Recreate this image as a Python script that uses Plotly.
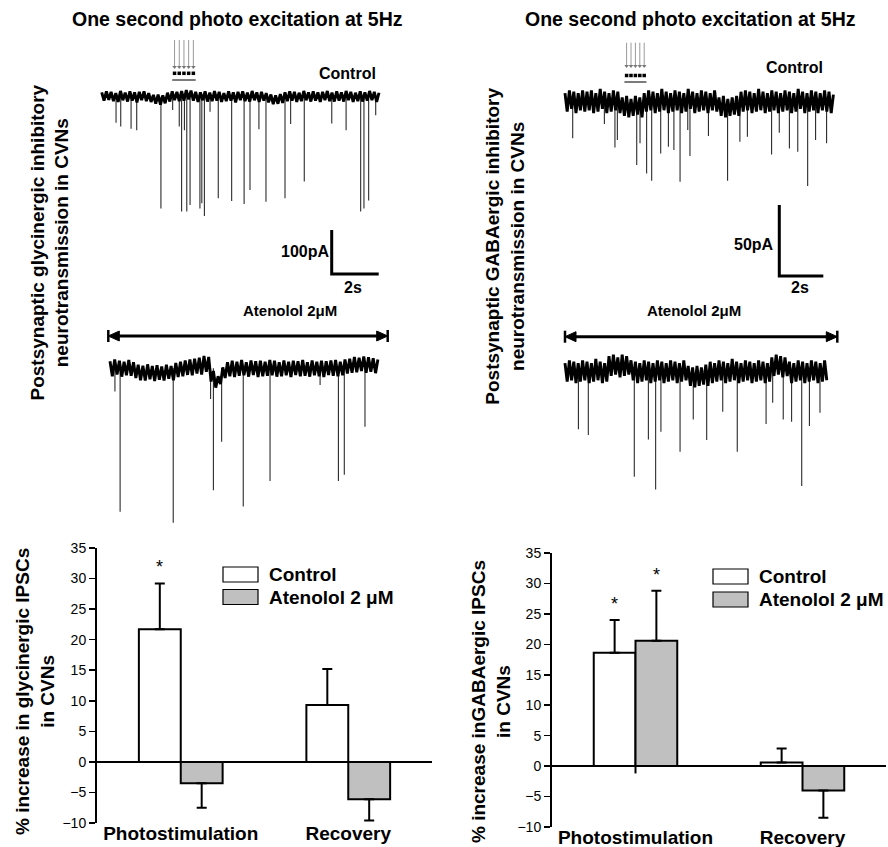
import plotly.graph_objects as go

W, H = 888, 847
FONT = "Liberation Sans, Arial, Helvetica, sans-serif"

# ---------------- bar chart data (% increase in IPSCs) ----------------
groups = ["Photostimulation", "Recovery"]
gly_control = [21.7, 9.3]
gly_control_err = [7.5, 5.9]
gly_atenolol = [-3.5, -6.1]
gly_atenolol_err = [4.0, 3.5]
gly_control_sig = [True, False]
gly_atenolol_sig = [False, False]

gaba_control = [18.6, 0.6]
gaba_control_err = [5.4, 2.3]
gaba_atenolol = [20.6, -4.0]
gaba_atenolol_err = [8.2, 4.5]
gaba_control_sig = [True, False]
gaba_atenolol_sig = [True, False]

# ---------------- recording traces ----------------
SAMPLE_DT = 0.1  # s between baseline-noise samples
# glycinergic, control (pA)
gly_ctrl_base = [10, -9, 12, -7, 11, -10, 8, -12, 13, -8,
                 9, -11, 12, -9, 10, -13, 11, -8, 12, -10,
                 8, -12, 4, -16, 5, -18, 3, -15, 9, -11,
                 12, -8, 11, -10, 13, -9, 15, -6, 14, -9,
                 11, -12, 10, -8, 12, -11, 9, -10, 13, -9,
                 11, -12, 8, -10, 12, -9, 10, -13, 11, -8,
                 12, -10, 9, -11, 13, -8, 10, -12, 11, -9,
                 8, -13, 5, -17, 3, -16, 6, -14, 10, -10,
                 12, -9, 11, -12, 9, -10, 13, -8, 10, -11,
                 12, -9, 10, -12, 11, -8, 13, -10, 9, -11,
                 12, -9, 10, -11, 13, -8, 11, -12, 9, -10,
                 12, -11, 10, -9, 13, -8, 11, -12, 9]
gly_ctrl_spike_t = [0.61, 0.81, 1.25, 1.49, 2.52, 3.02, 3.30, 3.40, 3.52, 3.62,
                    3.76, 4.18, 4.26, 4.37, 4.61, 4.96, 5.53, 6.06, 6.31, 6.69,
                    6.99, 7.80, 8.04, 8.62, 9.79, 10.40, 11.02, 11.16, 11.36, 11.66]
gly_ctrl_spike_amp = [-59, -68, -73, -76, -254, -30, -68, -261, -76, -261,
                      -246, -254, -242, -271, -34, -231, -237, -244, -212, -74,
                      -239, -231, -62, -193, -61, -76, -261, -254, -236, -42]
# glycinergic, atenolol
gly_aten_base = [16, -18, 20, -14, 17, -19, 15, -16, 19, -17,
                 14, -22, 8, -27, 6, -28, 9, -25, 5, -29,
                 7, -26, 4, -28, 8, -24, 5, -27, 12, -20,
                 15, -18, 18, -15, 20, -16, 22, -12, 24, -14,
                 28, -8, 26, -30, -6, -44, -18, -36, 2, -22,
                 14, -18, 17, -20, 15, -17, 19, -16, 14, -19,
                 18, -15, 16, -20, 17, -18, 15, -17, 19, -16,
                 17, -19, 14, -18, 18, -16, 15, -20, 17, -15,
                 16, -18, 19, -17, 14, -19, 18, -16, 15, -18,
                 17, -20, 16, -15, 18, -17, 19, -18, 15, -16,
                 20, -12, 22, -10, 26, -9, 24, -6, 27, -10,
                 25, -8, 23, -11, 20]
gly_aten_spike_t = [0.21, 0.43, 2.69, 4.28, 4.40, 4.75, 5.67, 6.81, 8.94, 9.72, 9.97, 10.85]
gly_aten_spike_amp = [-53, -326, -351, -70, -277, -167, -314, -256, -38, -256, -242, -133]
# GABAergic, control
gaba_ctrl_base = [6, -7, 8, -5, 7, -8, 6, -6, 8, -7,
                  7, -6, 8, -8, 6, -7, 9, -5, 7, -8,
                  6, -7, 8, -6, 7, -8, 3, -10, 4, -11,
                  2, -10, 4, -9, 3, -11, 6, -7, 8, -6,
                  7, -8, 6, -7, 9, -6, 7, -8, 6, -7,
                  8, -6, 7, -8, 6, -7, 9, -5, 7, -8,
                  6, -7, 8, -6, 7, -8, 6, -6, 8, -7,
                  3, -10, 4, -11, 2, -10, 3, -9, 4, -10,
                  7, -7, 8, -6, 7, -8, 6, -7, 9, -6,
                  7, -8, 6, -7, 8, -6, 7, -8, 6, -7,
                  8, -6, 7, -8, 6, -7, 9, -5, 7, -8,
                  6, -7, 8, -6, 7, -8, 6, -6, 8, -7,
                  7, -8, 5]
gaba_ctrl_spike_t = [0.35, 1.79, 2.27, 2.38, 3.26, 3.41, 3.71, 3.94, 4.35, 4.70,
                     4.95, 5.23, 5.58, 5.68, 6.52, 7.39, 7.95, 8.29, 9.39, 9.74,
                     10.20, 10.58, 11.03, 11.39, 11.89]
gaba_ctrl_spike_amp = [-25.8, -15.7, -32.2, -27.0, -44.6, -29.3, -50.5, -55.6, -36.4, -31.7,
                       -34.0, -56.3, -19.9, -38.3, -24.2, -55.6, -28.2, -24.6, -37.1, -21.8,
                       -32.9, -35.2, -59.4, -27.0, -29.3]
# GABAergic, atenolol
gaba_aten_base = [6, -7, 8, -6, 7, -8, 6, -7, 8, -6,
                  7, -8, 6, -7, 9, -6, 7, -8, 6, -7,
                  11, -3, 12, -2, 10, -4, 12, -3, 11, -2,
                  8, -6, 7, -8, 6, -7, 8, -6, 7, -8,
                  6, -7, 8, -6, 7, -8, 6, -7, 8, -6,
                  7, -8, 6, -7, 8, -6, 4, -10, 3, -11,
                  4, -10, 3, -9, 5, -10, 7, -8, 6, -7,
                  8, -6, 7, -8, 6, -7, 9, -6, 7, -8,
                  6, -7, 8, -6, 7, -8, 6, -7, 8, -6,
                  7, -8, 6, -7, 10, -3, 12, -2, 11, -4,
                  10, -3, 7, -8, 6, -7, 8, -6, 7, -8,
                  6, -7, 8, -6, 7, -8, 6, -7, 8, -6]
gaba_aten_spike_t = [0.61, 1.06, 3.15, 3.79, 4.12, 4.36, 5.23, 5.83, 6.44, 7.17,
                     7.83, 9.14, 9.44, 9.92, 10.30, 10.76, 11.11, 11.59]
gaba_aten_spike_amp = [-40.6, -44.6, -73.9, -47.7, -82.9, -42.3, -56.3, -33.6, -48.1, -28.2,
                       -56.3, -36.8, -21.8, -33.6, -35.2, -80.5, -38.2, -28.9]

# photostimulation (1 s at 5 Hz)
gly_stim_t = [3.1, 3.3, 3.5, 3.7, 3.9]
gly_stim_window = [3.0, 4.0]
gaba_stim_t = [2.8, 3.0, 3.2, 3.4, 3.6]
gaba_stim_window = [2.7, 3.7]
# calibration bars (s, pA)
gly_scale = (2, 100)
gaba_scale = (2, 50)

# ---------------- layout helpers ----------------
def X(px):
    return px / W

def Y(py):
    return 1 - py / H

fig = go.Figure()

# trace panels: pixel box (x0, x1, y0, y1), pixel of t=0, pixel of 0 pA, px/s, px/pA
panels = {
    "3": dict(box=(95, 395, 30, 300), t0=101.7, base=96.7, pps=23.5, ppa=0.44),
    "4": dict(box=(100, 395, 345, 540), t0=110.0, base=368.3, pps=23.5, ppa=0.44),
    "5": dict(box=(555, 882, 30, 300), t0=565.0, base=101.7, pps=22.0, ppa=1.42),
    "6": dict(box=(555, 882, 345, 540), t0=565.0, base=371.7, pps=22.0, ppa=1.42),
}

def pA_at(k, py):
    p = panels[k]
    return (p["base"] - py) / p["ppa"]

def t_at(k, px):
    p = panels[k]
    return (px - p["t0"]) / p["pps"]

layout_axes = {}
for k, p in panels.items():
    x0, x1, y0, y1 = p["box"]
    layout_axes["xaxis" + k] = dict(domain=[X(x0), X(x1)], range=[t_at(k, x0), t_at(k, x1)],
                                    visible=False, anchor="y" + k, fixedrange=True, automargin=False)
    layout_axes["yaxis" + k] = dict(domain=[Y(y1), Y(y0)], range=[pA_at(k, y1), pA_at(k, y0)],
                                    visible=False, anchor="x" + k, fixedrange=True, automargin=False)

def add_recording(k, base, spike_t, spike_amp, lw):
    t = [i * SAMPLE_DT for i in range(len(base))]
    xs, ys = [], []
    for tt, a in zip(spike_t, spike_amp):
        xs += [tt, tt, None]
        ys += [0, a, None]
    fig.add_trace(go.Scatter(x=xs, y=ys, mode="lines", line=dict(color="#2b2b2b", width=1.1),
                             xaxis="x" + k, yaxis="y" + k, hoverinfo="skip", showlegend=False))
    fig.add_trace(go.Scatter(x=t, y=base, mode="lines", line=dict(color="black", width=lw),
                             xaxis="x" + k, yaxis="y" + k, hoverinfo="skip", showlegend=False))

add_recording("3", gly_ctrl_base, gly_ctrl_spike_t, gly_ctrl_spike_amp, 2.9)
add_recording("4", gly_aten_base, gly_aten_spike_t, gly_aten_spike_amp, 2.9)
add_recording("5", gaba_ctrl_base, gaba_ctrl_spike_t, gaba_ctrl_spike_amp, 2.9)
add_recording("6", gaba_aten_base, gaba_aten_spike_t, gaba_aten_spike_amp, 2.9)

def add_stim(k, stim_t, window, py_top, py_tip, py_rect, py_line):
    top, tip, rect, line = (pA_at(k, py_top), pA_at(k, py_tip), pA_at(k, py_rect), pA_at(k, py_line))
    xs, ys = [], []
    for tt in stim_t:
        xs += [tt, tt, None]
        ys += [top, tip, None]
    fig.add_trace(go.Scatter(x=xs, y=ys, mode="lines", line=dict(color="#9a9a9a", width=1),
                             xaxis="x" + k, yaxis="y" + k, hoverinfo="skip", showlegend=False))
    fig.add_trace(go.Scatter(x=stim_t, y=[tip] * len(stim_t), mode="markers",
                             marker=dict(symbol="triangle-down", size=4, color="#777777"),
                             xaxis="x" + k, yaxis="y" + k, hoverinfo="skip", showlegend=False))
    fig.add_trace(go.Scatter(x=stim_t, y=[rect] * len(stim_t), mode="markers",
                             marker=dict(symbol="square", size=3.5, color="black"),
                             xaxis="x" + k, yaxis="y" + k, hoverinfo="skip", showlegend=False))
    fig.add_trace(go.Scatter(x=window, y=[line, line], mode="lines", line=dict(color="#333333", width=1.3),
                             xaxis="x" + k, yaxis="y" + k, hoverinfo="skip", showlegend=False))

add_stim("3", gly_stim_t, gly_stim_window, 40, 67, 73.3, 80)
add_stim("5", gaba_stim_t, gaba_stim_window, 42.7, 66, 75.5, 82)

shapes = []

def add_scale(k, scale, px, py):
    ts, amp = scale
    t0 = t_at(k, px)
    a0 = pA_at(k, py)
    shapes.append(dict(type="path", xref="x" + k, yref="y" + k,
                       path=f"M {t0},{a0 + amp} L {t0},{a0} L {t0 + ts},{a0}",
                       line=dict(color="black", width=3)))

add_scale("3", gly_scale, 331.7, 274)
add_scale("5", gaba_scale, 779.3, 276)

def drug_arrow(x0, x1, y):
    shapes.append(dict(type="line", xref="paper", yref="paper", x0=X(x0 + 6), x1=X(x1 - 6),
                       y0=Y(y), y1=Y(y), line=dict(color="black", width=3)))
    for tip, back in ((x0, x0 + 11), (x1, x1 - 11)):
        shapes.append(dict(type="path", xref="paper", yref="paper",
                           path=f"M {X(tip)},{Y(y)} L {X(back)},{Y(y - 5)} L {X(back)},{Y(y + 5)} Z",
                           fillcolor="black", line=dict(color="black", width=1)))
        shapes.append(dict(type="line", xref="paper", yref="paper", x0=X(tip), x1=X(tip),
                           y0=Y(y - 6), y1=Y(y + 6), line=dict(color="black", width=2.5)))

drug_arrow(108.3, 387.7, 336)
drug_arrow(565, 837.3, 336.7)

# ---------------- bar charts ----------------
CTRL_COLOR = "white"
ATEN_COLOR = "#c0c0c0"

def err_arrays(vals, errs):
    up = [e if v >= 0 else 0 for v, e in zip(vals, errs)]
    dn = [e if v < 0 else 0 for v, e in zip(vals, errs)]
    return up, dn

def add_bars(xa, ya, vals, errs, color):
    up, dn = err_arrays(vals, errs)
    fig.add_trace(go.Bar(x=groups, y=vals, xaxis=xa, yaxis=ya, showlegend=False,
                         marker=dict(color=color, line=dict(color="black", width=2)),
                         error_y=dict(type="data", symmetric=False, array=up, arrayminus=dn,
                                      color="black", thickness=2, width=5),
                         hoverinfo="skip"))

add_bars("x", "y", gly_control, gly_control_err, CTRL_COLOR)
add_bars("x", "y", gly_atenolol, gly_atenolol_err, ATEN_COLOR)
add_bars("x2", "y2", gaba_control, gaba_control_err, CTRL_COLOR)
add_bars("x2", "y2", gaba_atenolol, gaba_atenolol_err, ATEN_COLOR)

annotations = []

def add_sig(xa, ya, vals, errs, sig, offset):
    for i, (v, e, s) in enumerate(zip(vals, errs, sig)):
        if s:
            annotations.append(dict(text="*", x=i + offset, y=v + e, xref=xa, yref=ya,
                                    showarrow=False, yanchor="bottom", yshift=4,
                                    font=dict(family=FONT, size=18, color="black")))

add_sig("x", "y", gly_control, gly_control_err, gly_control_sig, -0.125)
add_sig("x", "y", gly_atenolol, gly_atenolol_err, gly_atenolol_sig, 0.125)
add_sig("x2", "y2", gaba_control, gaba_control_err, gaba_control_sig, -0.125)
add_sig("x2", "y2", gaba_atenolol, gaba_atenolol_err, gaba_atenolol_sig, 0.125)

# small tick under the zero line (right chart)
shapes.append(dict(type="line", xref="x2", yref="y2", x0=0, x1=0, y0=0, y1=-1.2,
                   line=dict(color="black", width=2)))

def bar_axes(px0, px1, py0, py1):
    xa = dict(domain=[X(px0), X(px1)], type="category", range=[-0.5, 1.5], showline=False,
              showgrid=False, zeroline=False, ticks="", fixedrange=True, automargin=False,
              ticklabelstandoff=-3,
              tickfont=dict(family=FONT, size=19, color="black", weight="bold"))
    ya = dict(domain=[Y(py1), Y(py0)], range=[-10, 35], tick0=0, dtick=5, showline=True,
              linecolor="black", linewidth=2, ticks="outside", ticklen=6, tickwidth=1.5,
              tickcolor="black", showgrid=False, zeroline=True, zerolinecolor="black",
              zerolinewidth=2, fixedrange=True, automargin=False,
              tickfont=dict(family=FONT, size=14, color="black"))
    return xa, ya

xa1, ya1 = bar_axes(97, 432, 548, 823)
xa2, ya2 = bar_axes(552, 886, 553, 827)
xa1["anchor"] = "y"
ya1["anchor"] = "x"
xa2["anchor"] = "y2"
ya2["anchor"] = "x2"

# legends
def legend(px_box, py_c, py_a, px_text, size):
    for py, col in ((py_c, CTRL_COLOR), (py_a, ATEN_COLOR)):
        shapes.append(dict(type="rect", xref="paper", yref="paper", x0=X(px_box), x1=X(px_box + 35),
                           y0=Y(py - 7.5), y1=Y(py + 7.5), fillcolor=col,
                           line=dict(color="black", width=1.2)))
    annotations.append(dict(text="Control", x=X(px_text), y=Y(py_c), xref="paper", yref="paper",
                            showarrow=False, xanchor="left", yanchor="middle",
                            font=dict(family=FONT, size=size, color="black", weight="bold")))
    annotations.append(dict(text="Atenolol 2 μM", x=X(px_text), y=Y(py_a), xref="paper", yref="paper",
                            showarrow=False, xanchor="left", yanchor="middle",
                            font=dict(family=FONT, size=size, color="black", weight="bold")))

legend(223, 574.5, 597, 267, 19)
legend(713, 576.5, 599.5, 757, 19)

def ann(text, px, py, size, angle=0, bold=True, xanchor="center"):
    annotations.append(dict(text=text, x=X(px), y=Y(py), xref="paper", yref="paper",
                            showarrow=False, xanchor=xanchor, yanchor="middle", textangle=angle,
                            font=dict(family=FONT, size=size, color="black",
                                      weight="bold" if bold else "normal")))

ann("One second photo excitation at 5Hz", 238, 19, 19.5)
ann("One second photo excitation at 5Hz", 690.7, 19, 19.5)
ann("Control", 347.5, 74, 16)
ann("Control", 794.7, 68, 16)
ann("Atenolol 2μM", 290, 310, 15)
ann("Atenolol 2μM", 694, 310, 15)
ann("100pA", 304.5, 251.7, 16)
ann("2s", 352.7, 287.3, 16)
ann("50pA", 753.7, 245, 16)
ann("2s", 800, 287.3, 16)
ann("Postsynaptic glycinergic inhibitory<br>neurotransmission in CVNs", 50, 242.5, 19, angle=-90)
ann("Postsynaptic GABAergic inhibitory<br>neurotransmission in CVNs", 505, 246.7, 19, angle=-90)
ann("% increase in glycinergic IPSCs<br>in CVNs", 35, 692, 19, angle=-90)
ann("% increase inGABAergic IPSCs<br>in CVNs", 491, 701, 19, angle=-90)

fig.update_layout(
    width=W, height=H, margin=dict(l=0, r=0, t=0, b=0, autoexpand=False),
    paper_bgcolor="white", plot_bgcolor="white",
    barmode="group", bargap=0.5, bargroupgap=0,
    showlegend=False, font=dict(family=FONT, color="black"),
    xaxis=xa1, yaxis=ya1, xaxis2=xa2, yaxis2=ya2,
    shapes=shapes, annotations=annotations,
    **layout_axes,
)

fig.write_html("out.html", config={"displayModeBar": False, "staticPlot": True},
               post_script="document.body.style.margin='0px';document.body.style.overflow='hidden';")
